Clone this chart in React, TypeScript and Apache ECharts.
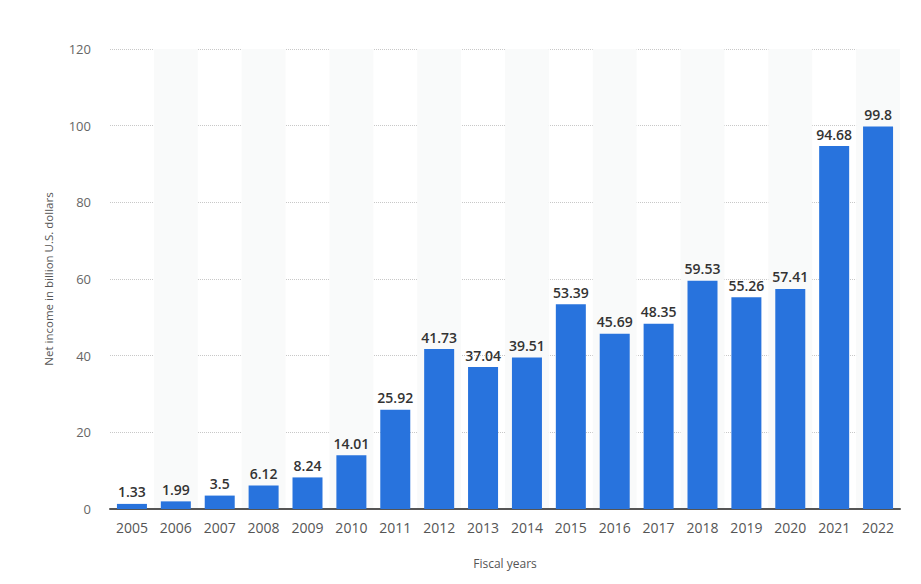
import React, { useEffect, useRef } from "react";
import * as echarts from "echarts";

const categories = ["2005","2006","2007","2008","2009","2010","2011","2012","2013","2014","2015","2016","2017","2018","2019","2020","2021","2022"];
const netIncome = [1.33,1.99,3.5,6.12,8.24,14.01,25.92,41.73,37.04,39.51,53.39,45.69,48.35,59.53,55.26,57.41,94.68,99.8];
const yTicks = [0, 20, 40, 60, 80, 100, 120];

export default function App() {
  const ref = useRef<HTMLDivElement>(null);
  useEffect(() => {
    if (!ref.current) return;
    const chart = echarts.init(ref.current, undefined, { renderer: "svg" });
    chart.setOption({
      animation: false,
      textStyle: { fontFamily: "Open Sans" },
      grid: { left: 110, right: 21, top: 49, bottom: 75, containLabel: false },
      xAxis: {
        type: "category",
        data: categories,
        name: "Fiscal years",
        nameLocation: "middle",
        nameGap: 48,
        nameTextStyle: { color: "#555", fontSize: 12, fontFamily: "Open Sans" },
        axisLine: { show: true, lineStyle: { color: "#555", width: 2 } },
        axisTick: { show: false },
        axisLabel: { color: "#555", fontSize: 14, margin: 11, fontFamily: "Open Sans" },
        splitArea: { show: true, areaStyle: { color: ["rgba(255,255,255,0)", "#f9fafa"] } },
      },
      yAxis: {
        type: "value",
        min: yTicks[0],
        max: yTicks[yTicks.length - 1],
        interval: 20,
        name: "Net income in billion U.S. dollars",
        nameLocation: "middle",
        nameGap: 56,
        nameTextStyle: { color: "#555", fontSize: 11.5, fontFamily: "Open Sans" },
        axisLine: { show: false },
        axisTick: { show: false },
        axisLabel: { color: "#666", fontSize: 13, margin: 19, fontFamily: "Open Sans" },
        splitLine: { show: true, lineStyle: { color: "#c8c8c8", type: "dotted", width: 1 } },
      },
      series: [
        {
          type: "bar",
          data: netIncome,
          barWidth: 30,
          itemStyle: { color: "#2873dd" },
          label: {
            show: true,
            position: "top",
            distance: 5,
            color: "#333",
            fontSize: 14,
            fontWeight: 600,
            fontFamily: "Open Sans",
          },
        },
      ],
    });
    return () => chart.dispose();
  }, []);
  return <div ref={ref} style={{ width: 921, height: 584, position: "absolute", left: 0, top: 0 }} />;
}
